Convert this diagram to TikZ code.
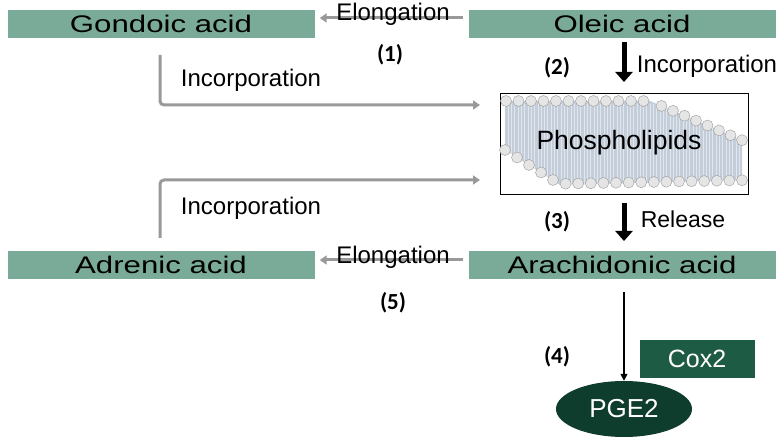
\documentclass[tikz,border=0pt]{standalone}
\usepackage{fontspec}
\setmainfont{Liberation Sans}
\newfontfamily\numfont{Carlito}
\usetikzlibrary{arrows.meta,shapes.geometric}
\definecolor{bar}{HTML}{7AAB98}
\definecolor{dk}{HTML}{1E5B45}
\definecolor{dk2}{HTML}{0F3D2D}
\definecolor{gr}{HTML}{999999}
\definecolor{mem}{HTML}{C3CEDA}
\newcommand{\wide}[1]{\scalebox{1.3}[1]{#1}}
\begin{document}
\begin{tikzpicture}[x=1pt,y=-1pt,
 bar/.style={fill=bar,draw=none,minimum width=307pt,minimum height=28pt,inner sep=0pt,font=\fontsize{24}{26}\selectfont},
 lab/.style={font=\fontsize{24}{26}\selectfont},
 num/.style={font=\numfont\bfseries\fontsize{23}{25}\selectfont},
 garr/.style={draw=gr,line width=3pt,-{Triangle[length=7pt,width=9pt]}},
 barr/.style={draw=black,line width=5pt,-{Triangle[length=10pt,width=17pt]}}]
\useasboundingbox (0,0) rectangle (780,441);
\node[bar] (gon) at (161,24) {\wide{Gondoic acid}};
\node[bar] (ole) at (622,24) {\wide{Oleic acid}};
\node[bar] (adr) at (161,265) {\wide{Adrenic acid}};
\node[bar] (ara) at (622,265) {\wide{Arachidonic acid}};
% membrane
\node[draw,line width=1pt,minimum width=248pt,minimum height=101pt] (pl) at (624,144.5) {};
\begin{scope}
\clip (505,101) -- (650,101) -- (742,140) -- (742,180) -- (560,185) -- (505,150) -- cycle;
\fill[mem] (500,95) rectangle (750,195);
\foreach \i in {0,...,70}{\draw[white,opacity=.5] (508+3.3*\i,104) -- (508+3.3*\i,190);}
\end{scope}
\foreach \i in {0,...,11}{\draw[gray!80,fill=gray!20] (506+12.5*\i,101) circle (5.5);}
\foreach \i in {1,...,8}{\draw[gray!80,fill=gray!20] (650+11.5*\i,101+4.9*\i) circle (5.5);}
\foreach \i in {0,...,4}{\draw[gray!80,fill=gray!20] (505+12*\i,150+7.5*\i) circle (5.5);}
\foreach \i in {1,...,15}{\draw[gray!80,fill=gray!20] (553+12.6*\i,184-0.25*\i) circle (5.5);}
\node[font=\fontsize{26.5}{28}\selectfont] (plt) at (619,143) {Phospholipids};
% gray arrows
\coordinate (t1) at (160,55); \coordinate (t2) at (160,105); \coordinate (t3) at (480,105);
\coordinate (b1) at (160,238); \coordinate (b2) at (160,180); \coordinate (b3) at (480,180);
\draw[garr] ([xshift=-5pt,yshift=6pt]ole.west) -- ([xshift=5pt,yshift=6pt]gon.east);
\draw[garr] ([xshift=-5pt,yshift=5pt]ara.west) -- ([xshift=5pt,yshift=5pt]adr.east);
\draw[garr,rounded corners=4pt] (t1) -- (t2) -- (t3);
\draw[garr,rounded corners=4pt] (b1) -- (b2) -- (b3);
\node[lab] (l1) at (393,14) {Elongation};
\node[lab] (l5) at (393,257) {Elongation};
\node[lab] (li1) at (251,80) {Incorporation};
\node[lab] (li2) at (251,208) {Incorporation};
\node[num] (n1) at (390,55) {(1)};
\node[num] (n5) at (393,303) {(5)};
% black arrows
\draw[barr] (624,42) -- (624,82);
\draw[barr] (624,203) -- (624,241);
\node[num] (n2) at (557,68) {(2)};
\node[lab] (li3) at (707,66) {Incorporation};
\node[num] (n3) at (557,222) {(3)};
\node[font=\fontsize{23}{25}\selectfont] (rel) at (683,219) {Release};
\node[num] (n4) at (557,357) {(4)};
\node[fill=dk,text=white,minimum width=115pt,minimum height=38pt,font=\fontsize{25}{27}\selectfont] (cox) at (697,359) {Cox2};
\node[ellipse,fill=dk2,text=white,minimum width=136pt,minimum height=56pt,inner sep=0pt,font=\fontsize{26}{28}\selectfont] (pge) at (624,409) {PGE2};
\draw[line width=1.5pt,-{Triangle[length=7pt,width=7pt]}] (624,292) -- (pge.north);
\end{tikzpicture}
\end{document}
